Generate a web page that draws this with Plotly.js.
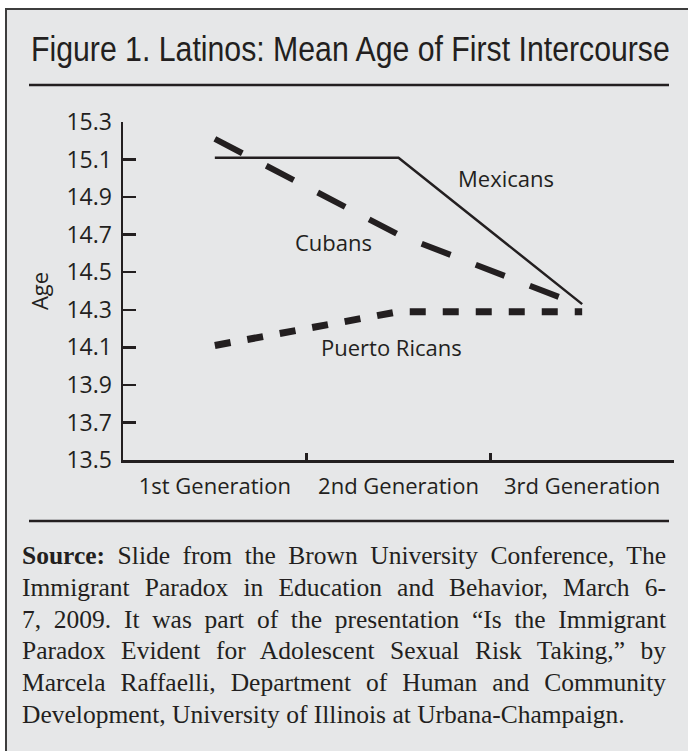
<!DOCTYPE html>
<html>
<head>
<meta charset="utf-8">
<script src="https://cdn.plot.ly/plotly-3.0.1.min.js"></script>
<style>
  html, body { margin:0; padding:0; background:#ffffff; width:688px; height:751px; overflow:hidden; }
  #frame { position:absolute; left:5px; top:8px; width:683px; height:743px; background:#e6e7e8;
           border-left:2px solid #3d3d3d; border-top:2px solid #3d3d3d; box-sizing:border-box; }
  #chart { position:absolute; left:0; top:0; width:688px; height:751px; }
  #source { position:absolute; left:22px; top:540px; width:644px; font-family:"Liberation Serif", "DejaVu Serif", serif;
            font-size:25.5px; line-height:31.8px; color:#231f20; }
  #source div { text-align:justify; text-align-last:justify; white-space:nowrap; }
  #source div.last { text-align:left; text-align-last:left; }
</style>
</head>
<body>
<div id="frame"></div>
<div id="chart"></div>
<div id="source">
  <div><b>Source:</b> Slide from the Brown University Conference, The</div>
  <div>Immigrant Paradox in Education and Behavior, March 6-</div>
  <div>7, 2009. It was part of the presentation “Is the Immigrant</div>
  <div>Paradox Evident for Adolescent Sexual Risk Taking,” by</div>
  <div>Marcela Raffaelli, Department of Human and Community</div>
  <div class="last">Development, University of Illinois at Urbana-Champaign.</div>
</div>
<script>
// ---- data ----
const generations = ['1st Generation', '2nd Generation', '3rd Generation'];
const mexicans = [15.11, 15.11, 14.33];
const cubans = [15.21, 14.70, 14.32];
const puertoRicans = [14.11, 14.29, 14.29];
const ageTicks = [13.5, 13.7, 13.9, 14.1, 14.3, 14.5, 14.7, 14.9, 15.1, 15.3];
const seriesLabels = ['Mexicans', 'Cubans', 'Puerto Ricans'];
const labelX = [1.584, 0.648, 0.964];
const labelY = [15.0, 14.66, 14.10];

const ink = '#231f20';
const chartFont = 'Open Sans, Noto Sans, sans-serif';

const traces = [
  { x: generations, y: mexicans, type: 'scatter', mode: 'lines', name: seriesLabels[0],
    line: { color: ink, width: 2.5 } },
  { x: generations, y: cubans, type: 'scatter', mode: 'lines', name: seriesLabels[1],
    line: { color: ink, width: 6, dash: '31px,27px' } },
  { x: generations, y: puertoRicans, type: 'scatter', mode: 'lines', name: seriesLabels[2],
    line: { color: ink, width: 7, dash: '16px,17px' } }
];

const annotations = seriesLabels.map((t, i) => ({
  text: t, x: labelX[i], y: labelY[i], xref: 'x', yref: 'y', showarrow: false,
  xanchor: 'center', yanchor: 'middle', font: { family: chartFont, size: 22, color: ink }
}));

const titleLeft = 31;
const layout = {
  width: 688, height: 751,
  margin: { l: 123, r: 14, t: 122, b: 291, pad: 0 },
  paper_bgcolor: 'rgba(0,0,0,0)', plot_bgcolor: 'rgba(0,0,0,0)',
  showlegend: false,
  title: {
    text: 'Figure 1. Latinos: Mean Age of First Intercourse',
    xref: 'container', yref: 'container', x: titleLeft / 688, xanchor: 'left',
    y: 1 - 49 / 751, yanchor: 'middle',
    font: { family: 'Liberation Sans, Arial, sans-serif', size: 34.5, color: ink }
  },
  xaxis: {
    type: 'category', categoryorder: 'array', categoryarray: generations,
    range: [-0.5, 2.5], tickson: 'boundaries', ticks: 'inside', ticklen: 7, tickwidth: 2.5, tickcolor: ink,
    showline: true, linewidth: 2.5, linecolor: ink, showgrid: false, zeroline: false,
    tickfont: { family: chartFont, size: 22, color: ink }, ticklabelstandoff: 5, fixedrange: true
  },
  yaxis: {
    range: [13.5, 15.3], tickmode: 'array', tickvals: ageTicks, ticktext: ageTicks.map(v => v.toFixed(1)),
    ticks: 'inside', ticklen: 13, tickwidth: 2.5, tickcolor: ink,
    showline: true, linewidth: 2.5, linecolor: ink, showgrid: false, zeroline: false,
    tickfont: { family: chartFont, size: 23, color: ink }, ticklabelstandoff: 4,
    title: { text: 'Age', font: { family: chartFont, size: 22, color: ink }, standoff: 12 },
    fixedrange: true
  },
  annotations: annotations,
  shapes: [
    { type: 'line', xref: 'paper', yref: 'paper', x0: (29 - 123) / 551, x1: (669 - 123) / 551,
      y0: (460 - 85) / 338, y1: (460 - 85) / 338, line: { color: ink, width: 2.5 } },
    { type: 'line', xref: 'paper', yref: 'paper', x0: (29 - 123) / 551, x1: (669 - 123) / 551,
      y0: (460 - 521) / 338, y1: (460 - 521) / 338, line: { color: ink, width: 2.5 } }
  ]
};

function condenseTitle() {
  const t = document.querySelector('#chart .gtitle');
  if (!t) return;
  t.removeAttribute('transform');
  const w = t.getBBox().width;
  const target = 670 - titleLeft;
  const s = w > 0 ? target / w : 1;
  t.setAttribute('transform', 'translate(' + titleLeft + ',0) scale(' + s + ',1) translate(' + (-titleLeft) + ',0)');
}

Plotly.newPlot('chart', traces, layout, { displayModeBar: false, staticPlot: true }).then(condenseTitle);
</script>
</body>
</html>
